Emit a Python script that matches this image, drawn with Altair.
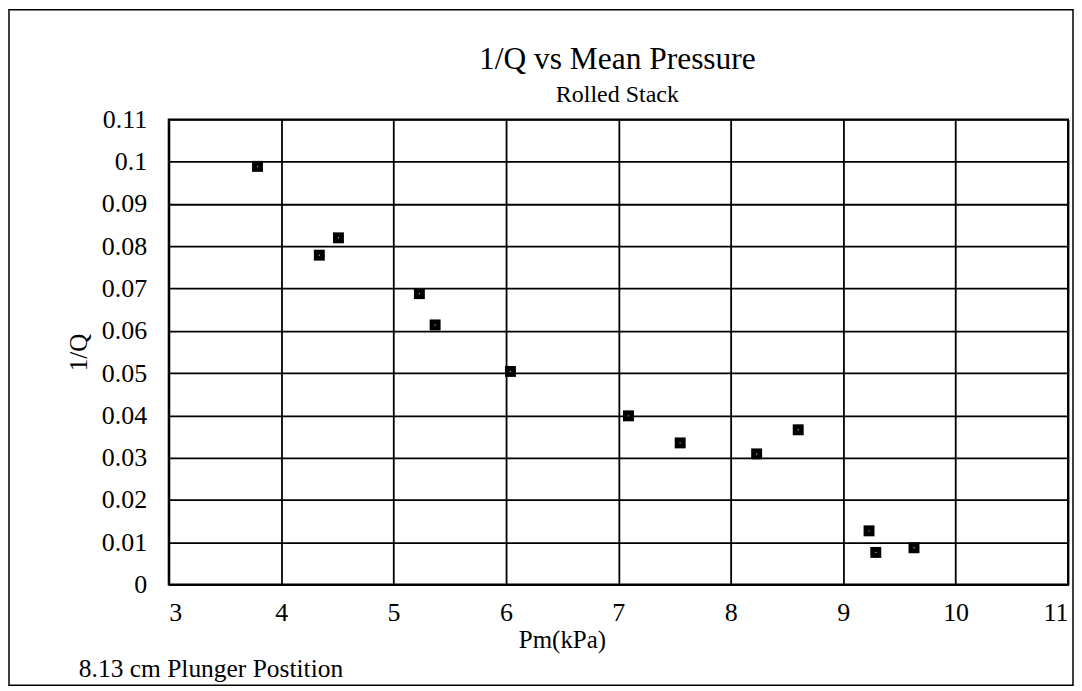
import altair as alt
import pandas as pd

# Data
pm_kpa = [3.79, 4.34, 4.51, 5.23, 5.37, 6.04, 7.09, 7.55, 8.23, 8.60, 9.23, 9.29, 9.63]
inv_q = [0.0989, 0.0779, 0.0820, 0.0688, 0.0614, 0.0504, 0.0399, 0.0335, 0.0309, 0.0366, 0.0127, 0.0076, 0.0087]
x_ticks = [3, 4, 5, 6, 7, 8, 9, 10, 11]
y_ticks = [0, 0.01, 0.02, 0.03, 0.04, 0.05, 0.06, 0.07, 0.08, 0.09, 0.1, 0.11]
title_text = "1/Q vs Mean Pressure"
subtitle_text = "Rolled Stack"
x_title = "Pm(kPa)"
y_title = "1/Q"
footnote = "8.13 cm Plunger Postition"

FONT = "Liberation Serif"
W, H = 901, 466

df = pd.DataFrame({"pm": pm_kpa, "q": inv_q})

x_enc = alt.X(
    "pm:Q",
    scale=alt.Scale(domain=[3, 11], nice=False, zero=False),
    axis=alt.Axis(
        values=x_ticks, format="d", title=x_title, grid=True, ticks=False,
        labelPadding=15, titleX=394, titleY=43, titleBaseline="top",
        titleAlign="center",
    ),
)
y_enc = alt.Y(
    "q:Q",
    scale=alt.Scale(domain=[0, 0.11], nice=False),
    axis=alt.Axis(
        values=y_ticks, format="~g", title=y_title, grid=True, ticks=False,
        labelPadding=22, titleX=-90, titleY=H / 2, titleAngle=270,
        titleAlign="center", titleBaseline="middle",
    ),
)

points = alt.Chart(df).mark_square(size=120, color="black", opacity=1).encode(x=x_enc, y=y_enc)
dots = alt.Chart(df).mark_circle(size=2, color="white", opacity=0.7, dx=-1, dy=-1).encode(x="pm:Q", y="q:Q")

frame_data = alt.Data(values=[{"a": 1}])
frame = alt.Chart(frame_data).mark_rect(fill=None, fillOpacity=0, stroke="black", strokeWidth=1.5).encode(
    x=alt.value(-160), x2=alt.value(906), y=alt.value(-110), y2=alt.value(567)
)

title_mark = alt.Chart(alt.Data(values=[{"t": title_text}])).mark_text(
    font=FONT, fontSize=31.5, color="black", align="center", baseline="alphabetic"
).encode(x=alt.value(W / 2 - 1), y=alt.value(-51), text="t:N")
subtitle_mark = alt.Chart(alt.Data(values=[{"t": subtitle_text}])).mark_text(
    font=FONT, fontSize=24, color="black", align="center", baseline="alphabetic"
).encode(x=alt.value(W / 2 - 1), y=alt.value(-17), text="t:N")

foot = alt.Chart(alt.Data(values=[{"t": footnote}])).mark_text(
    font=FONT, fontSize=25.5, color="black", align="left", baseline="alphabetic"
).encode(x=alt.value(-90), y=alt.value(559), text="t:N")

chart = alt.layer(frame, points, dots, title_mark, subtitle_mark, foot).properties(
    width=W,
    height=H,
    padding=0,
).configure_view(stroke="black", strokeWidth=2).configure_axis(
    labelFont=FONT, labelFontSize=26, labelColor="black",
    titleFont=FONT, titleFontSize=25, titleFontWeight="normal", titleColor="black",
    gridColor="black", gridWidth=1.8, gridOpacity=1,
    domainColor="black", domainWidth=2,
)

chart.save("out.html", embed_options={"renderer": "svg", "actions": False})
